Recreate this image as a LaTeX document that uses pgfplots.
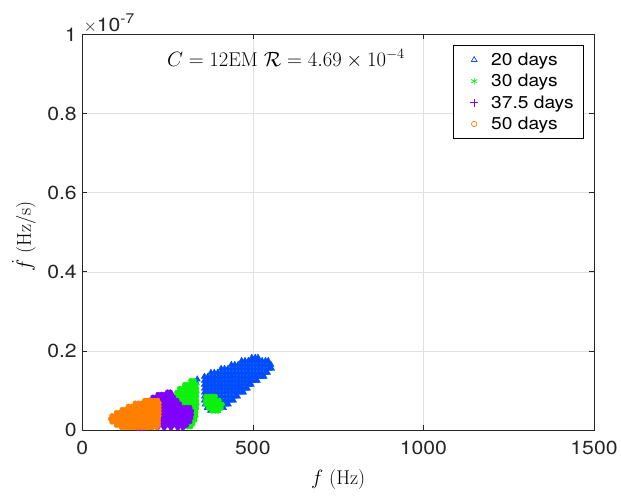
\documentclass[border=0pt]{standalone}
\usepackage{fontspec}
\usepackage{pgfplots}
\pgfplotsset{compat=1.18}
\newfontfamily\helv[FakeStretch=1.12]{TeX Gyre Heros}
\definecolor{c20}{rgb}{0,0.3,1}
\definecolor{c30}{rgb}{0.05,0.95,0.05}
\definecolor{c37}{rgb}{0.5,0,1}
\definecolor{c50}{rgb}{1,0.5,0}
\definecolor{axc}{rgb}{0.15,0.15,0.15}
\begin{document}
\begin{tikzpicture}
\useasboundingbox (-82.3bp,-66bp) rectangle (538.7bp,430bp);
\begin{axis}[name=ax, clip mode=individual,
  scale only axis, width=511.7bp, height=395.5bp,
  xmin=0, xmax=1500, ymin=0, ymax=1,
  xtick={0,500,1000,1500}, xticklabels={0,500,1000,1500},
  ytick={0,0.2,0.4,0.6,0.8,1}, yticklabels={0,0.2,0.4,0.6,0.8,1},
  tick align=inside, tick pos=both, major tick length=5bp,
  grid=major, grid style={color=black!12, line width=0.5bp},
  axis line style={color=axc, line width=0.6bp},
  every tick/.style={color=axc, line width=0.6bp},
  tick label style={font=\helv\fontsize{19}{19}\selectfont, text=axc},
  xticklabel style={yshift=-8bp},
  yticklabel style={xshift=-2bp},
  xlabel={$f$ (Hz)}, ylabel={$\dot{f}$ (Hz/s)},
  label style={font=\fontsize{20}{24}\selectfont},
  xlabel style={at={(axis description cs:0.5,-0.125)}, anchor=center},
  ylabel style={at={(axis description cs:-0.114,0.49)}, anchor=center},
  legend style={at={(0.9805,0.9734)}, anchor=north east, draw=black, line width=0.6bp,
    font=\helv\fontsize{17.2}{17.2}\selectfont, inner xsep=7bp, inner ysep=5.5bp,
    row sep=3.4bp, nodes={inner xsep=3bp, inner ysep=2bp}},
  legend cell align=left,
  legend image code/.code={\path[draw=none,fill=none] (0bp,0bp) -- (28bp,0bp);
    \path[#1,draw=none,fill=none] plot coordinates {(14bp,0bp)};},
]
\addlegendimage{mark=triangle, mark size=3.2pt, mark options={draw=c20, line width=0.7bp}}
\addlegendentry{20 days}
\addlegendimage{mark=asterisk, mark size=3.4pt, mark options={draw=c30, line width=0.7bp}}
\addlegendentry{30 days}
\addlegendimage{mark=+, mark size=4pt, mark options={draw=c37, line width=0.7bp}}
\addlegendentry{37.5 days}
\addlegendimage{mark=o, mark size=2.7pt, mark options={draw=c50, line width=0.7bp}}
\addlegendentry{50 days}

% 20 days
\addplot[forget plot, only marks, mark=triangle*, mark size=3.6pt, color=c20, fill=c20] coordinates {
(497,.183)(507,.183)(515,.183)
(467,.175)(477,.175)(487,.175)(497,.175)(507,.175)(517,.175)(527,.175)(537,.175)(545,.175)
(437,.165)(447,.165)(457,.165)(467,.165)(477,.165)(487,.165)(497,.165)(507,.165)(517,.165)(527,.165)(537,.165)(547,.165)(553,.165)
(407,.155)(417,.155)(427,.155)(437,.155)(447,.155)(457,.155)(467,.155)(477,.155)(487,.155)(497,.155)(507,.155)(517,.155)(527,.155)(537,.155)(547,.155)(555,.155)
(377,.145)(387,.145)(397,.145)(407,.145)(417,.145)(427,.145)(437,.145)(447,.145)(457,.145)(467,.145)(477,.145)(487,.145)(497,.145)(507,.145)(517,.145)(527,.145)(537,.145)(543,.145)
(358,.135)(368,.135)(378,.135)(388,.135)(398,.135)(408,.135)(418,.135)(428,.135)(438,.135)(448,.135)(458,.135)(468,.135)(478,.135)(488,.135)(498,.135)(508,.135)(518,.135)(528,.135)(533,.135)
(358,.125)(368,.125)(378,.125)(388,.125)(398,.125)(408,.125)(418,.125)(428,.125)(438,.125)(448,.125)(458,.125)(468,.125)(478,.125)(488,.125)(498,.125)(508,.125)(513,.125)
(358,.115)(368,.115)(378,.115)(388,.115)(398,.115)(408,.115)(418,.115)(428,.115)(438,.115)(448,.115)(458,.115)(468,.115)(478,.115)(488,.115)(495,.115)
(358,.105)(368,.105)(378,.105)(388,.105)(398,.105)(408,.105)(418,.105)(428,.105)(438,.105)(448,.105)(458,.105)(468,.105)(478,.105)(484,.105)
(358,.095)(368,.095)(378,.095)(388,.095)(398,.095)(408,.095)(418,.095)(428,.095)(438,.095)(448,.095)(458,.095)(468,.095)(473,.095)
(358,.085)(368,.085)(378,.085)(388,.085)(398,.085)(408,.085)(418,.085)(428,.085)(438,.085)(448,.085)(455,.085)
(358,.075)(368,.075)(378,.075)(388,.075)(398,.075)(408,.075)(418,.075)(428,.075)(438,.075)(443,.075)
(360,.065)(370,.065)(380,.065)(390,.065)(400,.065)(410,.065)(420,.065)(428,.065)
(366,.056)(376,.056)(386,.056)(396,.056)(406,.056)(414,.056)
(376,.049)(386,.049)(396,.049)
(334,.120)(337,.128)
};

% 30 days
\addplot[forget plot, only marks, mark=*, mark size=2.4pt, color=c30, fill=c30] coordinates {
(318,.125)(328,.125)
(300,.115)(310,.115)(320,.115)(330,.115)(334,.115)
(285,.105)(295,.105)(305,.105)(315,.105)(325,.105)(335,.105)
(277,.095)(287,.095)(297,.095)(307,.095)(317,.095)(327,.095)(336,.095)
(274,.085)(284,.085)(294,.085)(304,.085)(314,.085)(324,.085)(335,.085)
(274,.075)(284,.075)(294,.075)(304,.075)(314,.075)(324,.075)(335,.075)
(278,.065)(288,.065)(298,.065)(308,.065)(318,.065)(328,.065)(336,.065)
(288,.055)(298,.055)(308,.055)(318,.055)(328,.055)(335,.055)
(293,.045)(303,.045)(313,.045)(323,.045)(333,.045)
(298,.035)(308,.035)(318,.035)(328,.035)(333,.035)
(303,.025)(313,.025)(323,.025)(330,.025)
(305,.015)(315,.015)(324,.015)
(308,.008)(318,.008)
(362,.085)(372,.085)(382,.085)(390,.085)
(361,.075)(371,.075)(381,.075)(391,.075)(401,.075)
(362,.065)(372,.065)(382,.065)(392,.065)(402,.065)(410,.065)
(370,.055)(380,.055)(390,.055)(400,.055)(407,.055)
(380,.048)(390,.048)(398,.048)
};

% 37.5 days
\addplot[forget plot, only marks, mark=*, mark size=2.4pt, color=c37, fill=c37] coordinates {
(250,.096)(258,.096)
(222,.090)(232,.090)(242,.090)(252,.090)(262,.090)
(207,.083)(217,.083)(227,.083)(237,.083)(247,.083)(257,.083)(267,.083)
(197,.075)(207,.075)(217,.075)(227,.075)(237,.075)(247,.075)(257,.075)(267,.075)(277,.075)
(185,.066)(195,.066)(205,.066)(215,.066)(225,.066)(235,.066)(245,.066)(255,.066)(265,.066)(275,.066)(285,.066)
(175,.057)(185,.057)(195,.057)(205,.057)(215,.057)(225,.057)(235,.057)(245,.057)(255,.057)(265,.057)(275,.057)(285,.057)(295,.057)(305,.057)(315,.057)
(165,.048)(175,.048)(185,.048)(195,.048)(205,.048)(215,.048)(225,.048)(235,.048)(245,.048)(255,.048)(265,.048)(275,.048)(285,.048)(295,.048)(305,.048)(315,.048)(320,.048)
(160,.039)(170,.039)(180,.039)(190,.039)(200,.039)(210,.039)(220,.039)(230,.039)(240,.039)(250,.039)(260,.039)(270,.039)(280,.039)(290,.039)(300,.039)(310,.039)(320,.039)
(155,.030)(165,.030)(175,.030)(185,.030)(195,.030)(205,.030)(215,.030)(225,.030)(235,.030)(245,.030)(255,.030)(265,.030)(275,.030)(285,.030)(295,.030)(305,.030)(318,.030)
(155,.021)(165,.021)(175,.021)(185,.021)(195,.021)(205,.021)(215,.021)(225,.021)(235,.021)(245,.021)(255,.021)(265,.021)(275,.021)(285,.021)(295,.021)(305,.021)(315,.021)
(155,.012)(165,.012)(175,.012)(185,.012)(195,.012)(205,.012)(215,.012)(225,.012)(235,.012)(245,.012)(255,.012)(265,.012)(275,.012)(285,.012)(295,.012)(305,.012)
(160,.004)(170,.004)(180,.004)(200,.006)(220,.006)(240,.006)(260,.006)(280,.006)(295,.006)
};

% 50 days
\addplot[forget plot, only marks, mark=*, mark size=2.4pt, color=c50, fill=c50] coordinates {
(183,.075)(193,.075)(203,.075)(213,.075)(221,.075)
(155,.068)(165,.068)(175,.068)(185,.068)(195,.068)(205,.068)(215,.068)(225,.068)
(135,.060)(145,.060)(155,.060)(165,.060)(175,.060)(185,.060)(195,.060)(205,.060)(215,.060)(225,.060)
(117,.052)(127,.052)(137,.052)(147,.052)(157,.052)(167,.052)(177,.052)(187,.052)(197,.052)(207,.052)(217,.052)(225,.052)
(100,.044)(110,.044)(120,.044)(130,.044)(140,.044)(150,.044)(160,.044)(170,.044)(180,.044)(190,.044)(200,.044)(210,.044)(220,.044)(225,.044)
(87,.036)(97,.036)(107,.036)(117,.036)(127,.036)(137,.036)(147,.036)(157,.036)(167,.036)(177,.036)(187,.036)(197,.036)(207,.036)(217,.036)(225,.036)
(83,.028)(93,.028)(103,.028)(113,.028)(123,.028)(133,.028)(143,.028)(153,.028)(163,.028)(173,.028)(183,.028)(193,.028)(203,.028)(213,.028)(223,.028)
(87,.020)(97,.020)(107,.020)(117,.020)(127,.020)(137,.020)(147,.020)(157,.020)(167,.020)(177,.020)(187,.020)(197,.020)(207,.020)(217,.020)(223,.020)
(100,.012)(110,.012)(120,.012)(130,.012)(140,.012)(150,.012)(160,.012)(170,.012)(180,.012)(190,.012)(200,.012)(210,.012)(223,.012)
(115,.006)(125,.006)(135,.006)(145,.006)(155,.006)(165,.006)(175,.006)(185,.006)(195,.006)(205,.006)(218,.006)
};

\node[anchor=base, font=\fontsize{20}{24}\selectfont, inner sep=0pt] at (axis cs:597,0.920)
  {$C = 12\mathrm{EM}\ \mathcal{R} = 4.69\times 10^{-4}$};
\node[anchor=base west, inner sep=0pt, text=axc, font=\fontsize{19}{22}\selectfont]
  at (rel axis cs:0.002,1.0076)
  {$\times$\helv 10\raisebox{7.5bp}{\fontsize{14}{16}\selectfont\helv -7}};
\end{axis}
\end{tikzpicture}
\end{document}
